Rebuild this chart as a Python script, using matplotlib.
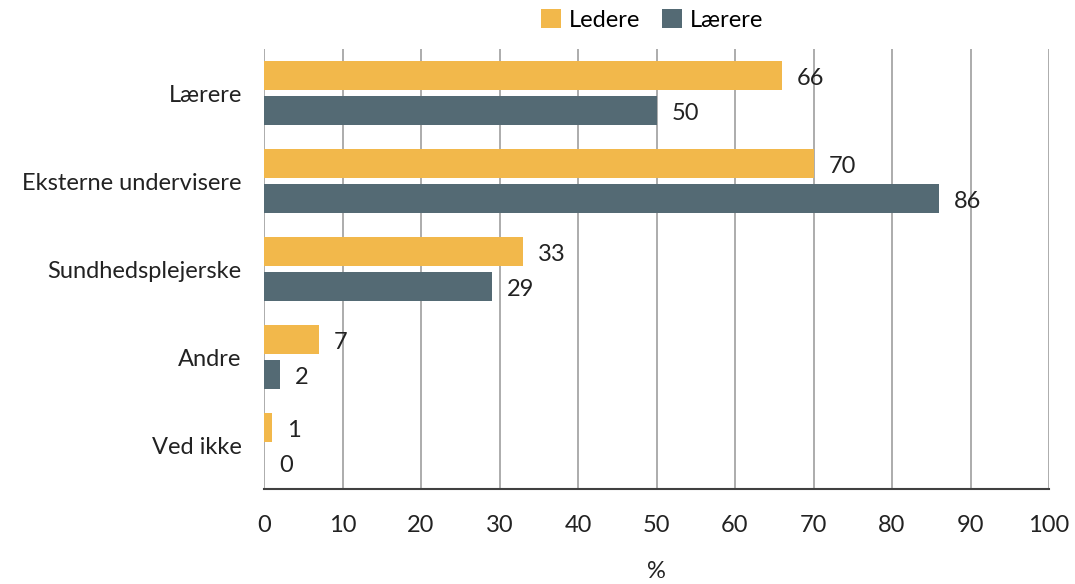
import numpy as np
import matplotlib.pyplot as plt

categories = ['Lærere', 'Eksterne undervisere', 'Sundhedsplejerske', 'Andre', 'Ved ikke']
ledere = [66, 70, 33, 7, 1]
laerere = [50, 86, 29, 2, 0]
series_names = ['Ledere', 'Lærere']
colors = ['#F2B84B', '#546A74']

plt.rcParams['font.family'] = ['Lato', 'DejaVu Sans']
fs = 17

fig = plt.figure(figsize=(10.75, 5.84), dpi=100)
ax = fig.add_axes([264 / 1075, 1 - 489 / 584, (1049 - 264) / 1075, (489 - 49) / 584])

y = np.arange(len(categories))
h = 0.33
off = 0.2
b1 = ax.barh(y - off, ledere, height=h, color=colors[0], label=series_names[0], zorder=3)
b2 = ax.barh(y + off, laerere, height=h, color=colors[1], label=series_names[1], zorder=3)

for bars, vals in ((b1, ledere), (b2, laerere)):
    for bar, v in zip(bars, vals):
        ax.text(v + 1.9, bar.get_y() + bar.get_height() / 2 + 0.03, str(v),
                va='center', ha='left', fontsize=fs, color='#222222', zorder=4)

ax.set_xlim(0, 100)
ax.set_ylim(4.5, -0.5)
ax.set_xticks(range(0, 101, 10))
ax.set_yticks(y)
ax.set_yticklabels(categories)
ax.tick_params(axis='both', length=0, labelsize=fs, colors='#222222')
ax.tick_params(axis='x', pad=19)
ax.tick_params(axis='y', pad=16)
ax.grid(axis='x', color='#A6A6A6', linewidth=1.3, zorder=0)

for s in ('top', 'right', 'left'):
    ax.spines[s].set_visible(False)
ax.spines['bottom'].set_color('#404040')
ax.spines['bottom'].set_linewidth(1.5)

ax.set_xlabel('%', fontsize=fs, labelpad=18, color='#222222')

fig.legend(handles=[b1, b2], loc='center', bbox_to_anchor=(652 / 1075, 1 - 20 / 584),
           ncol=2, frameon=False, fontsize=fs, handlelength=0.85, handleheight=0.85,
           handletextpad=0.35, columnspacing=0.9)

fig.savefig('out.png', dpi=100)
